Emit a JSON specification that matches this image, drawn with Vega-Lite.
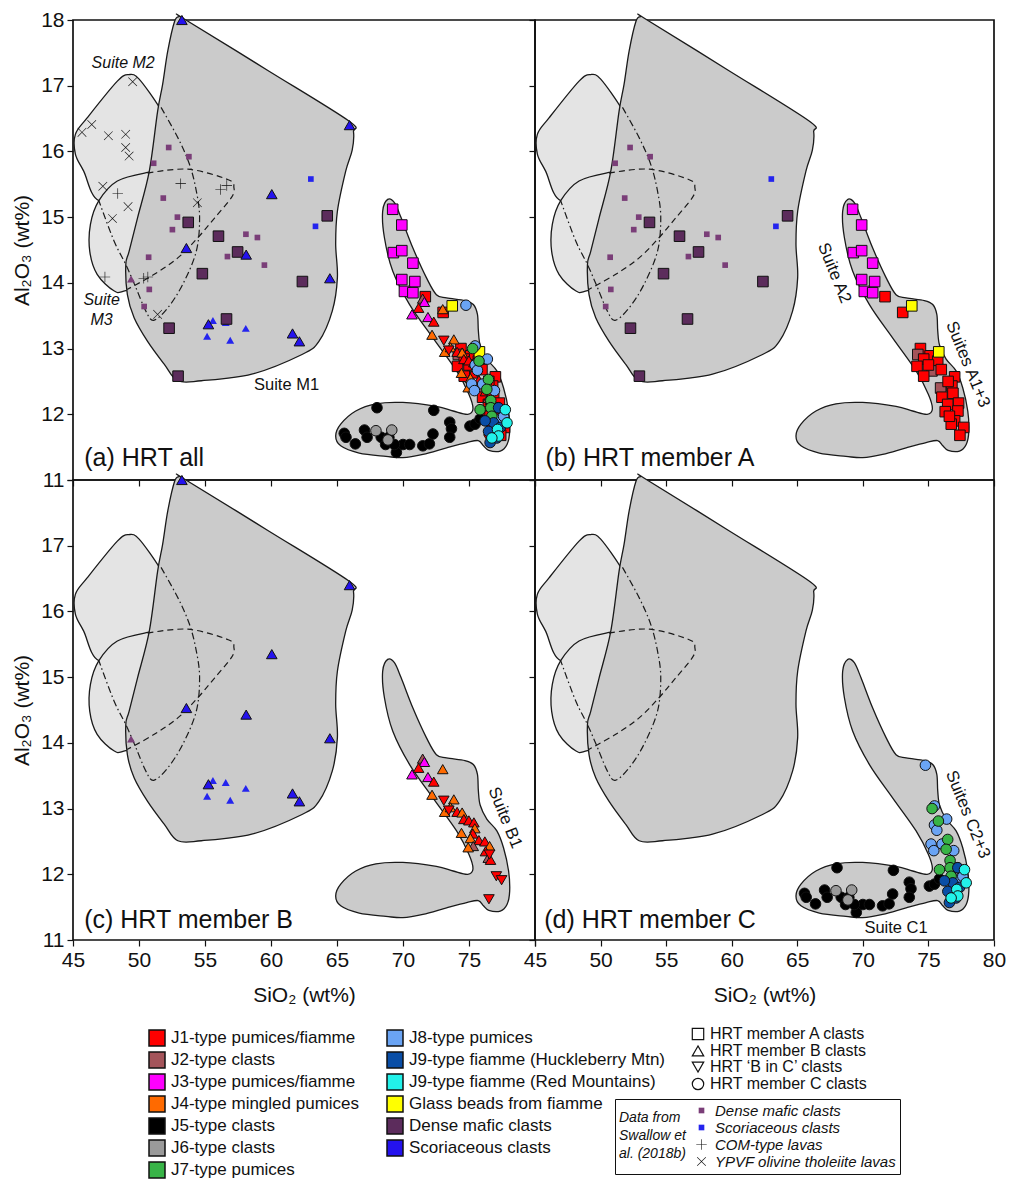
{
"$schema": "https://vega.github.io/schema/vega-lite/v6.json",
"padding": {"left": 10, "top": 8, "right": 10, "bottom": 0},
"columns": 2,
"spacing": 0,
"bounds": "flush",
"config": {
  "font": "Liberation Sans",
  "view": {"stroke": "#111", "strokeWidth": 1.7},
  "axis": {"grid": false, "domain": false, "tickColor": "#111", "tickSize": 6, "tickWidth": 1.2, "labelFontSize": 21, "labelColor": "#111", "labelFlush": false, "labelPadding": 3, "titleFontSize": 21, "titleFontWeight": "normal", "titleColor": "#111"},
  "legend": {"labelColor": "#111", "labelFont": "Liberation Sans"}
},
"datasets": {
  "types": [
    {"t": "J1", "type": "J1-type pumices/fiamme"},
    {"t": "J2", "type": "J2-type clasts"},
    {"t": "J3", "type": "J3-type pumices/fiamme"},
    {"t": "J4", "type": "J4-type mingled pumices"},
    {"t": "J5", "type": "J5-type clasts"},
    {"t": "J6", "type": "J6-type clasts"},
    {"t": "J7", "type": "J7-type pumices"},
    {"t": "J8", "type": "J8-type pumices"},
    {"t": "J9H", "type": "J9-type fiamme (Huckleberry Mtn)"},
    {"t": "J9R", "type": "J9-type fiamme (Red Mountains)"},
    {"t": "GB", "type": "Glass beads from fiamme"},
    {"t": "DM", "type": "Dense mafic clasts"},
    {"t": "SC", "type": "Scoriaceous clasts"}
  ],
  "members": [
    {"m": "A", "member": "HRT member A clasts"},
    {"m": "B", "member": "HRT member B clasts"},
    {"m": "BC", "member": "HRT ‘B in C’ clasts"},
    {"m": "C", "member": "HRT member C clasts"}
  ],
  "poly": [
    {"f": "M2", "o": 0, "x": 49.25, "y": 17.17}, {"f": "M2", "o": 1, "x": 50.01, "y": 17.1}, {"f": "M2", "o": 2, "x": 51.54, "y": 16.67}, {"f": "M2", "o": 3, "x": 51.92, "y": 16.46}, {"f": "M2", "o": 4, "x": 51.67, "y": 15.7}, {"f": "M2", "o": 5, "x": 49.63, "y": 15.4}, {"f": "M2", "o": 6, "x": 46.96, "y": 15.25}, {"f": "M2", "o": 7, "x": 45.81, "y": 15.7}, {"f": "M2", "o": 8, "x": 45.18, "y": 15.96}, {"f": "M2", "o": 9, "x": 45.18, "y": 16.26}, {"f": "M2", "o": 10, "x": 46.07, "y": 16.51}, {"f": "M2", "o": 11, "x": 48.36, "y": 17.07},
    {"f": "M3", "o": 0, "x": 46.96, "y": 15.25}, {"f": "M3", "o": 1, "x": 48.36, "y": 15.55}, {"f": "M3", "o": 2, "x": 50.65, "y": 15.68}, {"f": "M3", "o": 3, "x": 52.18, "y": 15.7}, {"f": "M3", "o": 4, "x": 52.18, "y": 14.08}, {"f": "M3", "o": 5, "x": 49.0, "y": 13.88}, {"f": "M3", "o": 6, "x": 48.1, "y": 13.88}, {"f": "M3", "o": 7, "x": 46.83, "y": 14.13}, {"f": "M3", "o": 8, "x": 46.27, "y": 14.48}, {"f": "M3", "o": 9, "x": 46.32, "y": 14.89},
    {"f": "M1", "o": 0, "x": 52.7, "y": 17.98}, {"f": "M1", "o": 1, "x": 53.05, "y": 18.05}, {"f": "M1", "o": 2, "x": 53.4, "y": 18.02}, {"f": "M1", "o": 3, "x": 59.7, "y": 17.24}, {"f": "M1", "o": 4, "x": 65.85, "y": 16.47}, {"f": "M1", "o": 5, "x": 66.25, "y": 16.3}, {"f": "M1", "o": 6, "x": 66.15, "y": 16.02}, {"f": "M1", "o": 7, "x": 65.66, "y": 15.7}, {"f": "M1", "o": 8, "x": 65.03, "y": 15.09}, {"f": "M1", "o": 9, "x": 64.9, "y": 14.59}, {"f": "M1", "o": 10, "x": 65.03, "y": 14.08}, {"f": "M1", "o": 11, "x": 64.64, "y": 13.57}, {"f": "M1", "o": 12, "x": 63.63, "y": 13.11}, {"f": "M1", "o": 13, "x": 62.35, "y": 12.91}, {"f": "M1", "o": 14, "x": 58.54, "y": 12.61}, {"f": "M1", "o": 15, "x": 54.72, "y": 12.51}, {"f": "M1", "o": 16, "x": 52.94, "y": 12.51}, {"f": "M1", "o": 17, "x": 51.92, "y": 12.76}, {"f": "M1", "o": 18, "x": 50.65, "y": 13.11}, {"f": "M1", "o": 19, "x": 49.63, "y": 13.47}, {"f": "M1", "o": 20, "x": 49.12, "y": 13.82}, {"f": "M1", "o": 21, "x": 49.0, "y": 14.28}, {"f": "M1", "o": 22, "x": 49.25, "y": 14.48}, {"f": "M1", "o": 23, "x": 49.89, "y": 14.99}, {"f": "M1", "o": 24, "x": 50.78, "y": 15.7}, {"f": "M1", "o": 25, "x": 51.41, "y": 16.61}, {"f": "M1", "o": 26, "x": 51.79, "y": 17.02}, {"f": "M1", "o": 27, "x": 52.18, "y": 17.53},
    {"f": "R", "o": 0, "x": 68.84, "y": 15.27}, {"f": "R", "o": 1, "x": 68.46, "y": 15.09}, {"f": "R", "o": 2, "x": 68.59, "y": 14.69}, {"f": "R", "o": 3, "x": 69.22, "y": 14.18}, {"f": "R", "o": 4, "x": 70.5, "y": 13.67}, {"f": "R", "o": 5, "x": 72.28, "y": 13.16}, {"f": "R", "o": 6, "x": 74.06, "y": 12.66}, {"f": "R", "o": 7, "x": 75.0, "y": 12.3}, {"f": "R", "o": 8, "x": 75.3, "y": 12.08}, {"f": "R", "o": 9, "x": 74.9, "y": 12.0}, {"f": "R", "o": 10, "x": 73.8, "y": 12.05}, {"f": "R", "o": 11, "x": 72.53, "y": 12.12}, {"f": "R", "o": 12, "x": 69.99, "y": 12.18}, {"f": "R", "o": 13, "x": 67.95, "y": 12.16}, {"f": "R", "o": 14, "x": 66.42, "y": 12.05}, {"f": "R", "o": 15, "x": 65.28, "y": 11.85}, {"f": "R", "o": 16, "x": 64.9, "y": 11.67}, {"f": "R", "o": 17, "x": 65.28, "y": 11.52}, {"f": "R", "o": 18, "x": 66.68, "y": 11.41}, {"f": "R", "o": 19, "x": 68.71, "y": 11.36}, {"f": "R", "o": 20, "x": 69.99, "y": 11.34}, {"f": "R", "o": 21, "x": 71.51, "y": 11.39}, {"f": "R", "o": 22, "x": 73.3, "y": 11.49}, {"f": "R", "o": 23, "x": 74.82, "y": 11.57}, {"f": "R", "o": 24, "x": 75.7, "y": 11.6}, {"f": "R", "o": 25, "x": 76.1, "y": 11.52}, {"f": "R", "o": 26, "x": 76.5, "y": 11.45}, {"f": "R", "o": 27, "x": 77.37, "y": 11.44}, {"f": "R", "o": 28, "x": 77.88, "y": 11.54}, {"f": "R", "o": 29, "x": 78.08, "y": 11.74}, {"f": "R", "o": 30, "x": 78.0, "y": 12.05}, {"f": "R", "o": 31, "x": 77.62, "y": 12.4}, {"f": "R", "o": 32, "x": 77.11, "y": 12.66}, {"f": "R", "o": 33, "x": 76.35, "y": 12.84}, {"f": "R", "o": 34, "x": 75.85, "y": 13.05}, {"f": "R", "o": 35, "x": 75.71, "y": 13.27}, {"f": "R", "o": 36, "x": 75.64, "y": 13.52}, {"f": "R", "o": 37, "x": 75.33, "y": 13.67}, {"f": "R", "o": 38, "x": 74.69, "y": 13.73}, {"f": "R", "o": 39, "x": 73.3, "y": 13.77}, {"f": "R", "o": 40, "x": 72.53, "y": 13.82}, {"f": "R", "o": 41, "x": 71.77, "y": 14.08}, {"f": "R", "o": 42, "x": 70.75, "y": 14.53}, {"f": "R", "o": 43, "x": 69.86, "y": 14.99}, {"f": "R", "o": 44, "x": 69.35, "y": 15.22},
    {"f": "D", "o": 0, "x": 50.65, "y": 15.67}, {"f": "D", "o": 1, "x": 53.7, "y": 15.73}, {"f": "D", "o": 2, "x": 56.76, "y": 15.57}, {"f": "D", "o": 3, "x": 57.19, "y": 15.45}, {"f": "D", "o": 4, "x": 57.01, "y": 15.3}, {"f": "D", "o": 5, "x": 55.74, "y": 14.99}, {"f": "D", "o": 6, "x": 54.47, "y": 14.69}, {"f": "D", "o": 7, "x": 52.94, "y": 14.38}, {"f": "D", "o": 8, "x": 51.16, "y": 14.13}, {"f": "D", "o": 9, "x": 49.1, "y": 13.9},
    {"f": "DD", "o": 0, "x": 51.67, "y": 16.67}, {"f": "DD", "o": 1, "x": 52.94, "y": 16.21}, {"f": "DD", "o": 2, "x": 53.83, "y": 15.8}, {"f": "DD", "o": 3, "x": 54.34, "y": 15.4}, {"f": "DD", "o": 4, "x": 54.59, "y": 14.99}, {"f": "DD", "o": 5, "x": 54.34, "y": 14.48}, {"f": "DD", "o": 6, "x": 53.32, "y": 13.98}, {"f": "DD", "o": 7, "x": 52.18, "y": 13.62}, {"f": "DD", "o": 8, "x": 51.11, "y": 13.43}, {"f": "DD", "o": 9, "x": 50.52, "y": 13.57}, {"f": "DD", "o": 10, "x": 49.76, "y": 13.93}, {"f": "DD", "o": 11, "x": 49.0, "y": 14.28}, {"f": "DD", "o": 12, "x": 48.1, "y": 14.64}, {"f": "DD", "o": 13, "x": 46.96, "y": 15.25}
  ],
  "sw": [
    {"s": "Dense mafic clasts", "x": 52.25, "y": 16.06}, {"s": "Dense mafic clasts", "x": 53.78, "y": 15.92}, {"s": "Dense mafic clasts", "x": 51.11, "y": 15.82}, {"s": "Dense mafic clasts", "x": 51.84, "y": 15.29}, {"s": "Dense mafic clasts", "x": 52.91, "y": 15.0}, {"s": "Dense mafic clasts", "x": 52.53, "y": 14.81}, {"s": "Dense mafic clasts", "x": 50.73, "y": 14.39}, {"s": "Dense mafic clasts", "x": 50.78, "y": 13.9}, {"s": "Dense mafic clasts", "x": 50.39, "y": 13.64}, {"s": "Dense mafic clasts", "x": 58.1, "y": 14.74}, {"s": "Dense mafic clasts", "x": 58.97, "y": 14.69}, {"s": "Dense mafic clasts", "x": 56.7, "y": 14.4}, {"s": "Dense mafic clasts", "x": 59.5, "y": 14.27},
    {"s": "Scoriaceous clasts", "x": 63.02, "y": 15.58}, {"s": "Scoriaceous clasts", "x": 63.37, "y": 14.86},
    {"s": "dm-tri", "x": 49.4, "y": 14.05},
    {"s": "sc-tri", "x": 55.16, "y": 13.18}, {"s": "sc-tri", "x": 56.57, "y": 13.39}, {"s": "sc-tri", "x": 56.91, "y": 13.12}, {"s": "sc-tri", "x": 58.09, "y": 13.3}, {"s": "sc-tri", "x": 55.6, "y": 13.42},
    {"s": "COM-type lavas", "x": 53.16, "y": 15.51}, {"s": "COM-type lavas", "x": 48.39, "y": 15.36}, {"s": "COM-type lavas", "x": 56.18, "y": 15.42}, {"s": "COM-type lavas", "x": 56.65, "y": 15.48}, {"s": "COM-type lavas", "x": 47.42, "y": 14.09}, {"s": "COM-type lavas", "x": 50.36, "y": 14.07}, {"s": "COM-type lavas", "x": 50.67, "y": 14.09},
    {"s": "YPVF olivine tholeiite lavas", "x": 49.52, "y": 17.06}, {"s": "YPVF olivine tholeiite lavas", "x": 46.42, "y": 16.41}, {"s": "YPVF olivine tholeiite lavas", "x": 45.68, "y": 16.29}, {"s": "YPVF olivine tholeiite lavas", "x": 47.68, "y": 16.24}, {"s": "YPVF olivine tholeiite lavas", "x": 48.99, "y": 16.26}, {"s": "YPVF olivine tholeiite lavas", "x": 48.99, "y": 16.06}, {"s": "YPVF olivine tholeiite lavas", "x": 49.25, "y": 15.93}, {"s": "YPVF olivine tholeiite lavas", "x": 47.26, "y": 15.47}, {"s": "YPVF olivine tholeiite lavas", "x": 49.17, "y": 15.16}, {"s": "YPVF olivine tholeiite lavas", "x": 47.99, "y": 14.98}, {"s": "YPVF olivine tholeiite lavas", "x": 54.42, "y": 15.22}, {"s": "YPVF olivine tholeiite lavas", "x": 51.41, "y": 13.52}
  ],
  "pts": [
    {"m": "A", "t": "DM", "x": 53.73, "y": 14.92}, {"m": "A", "t": "DM", "x": 56.02, "y": 14.71}, {"m": "A", "t": "DM", "x": 57.47, "y": 14.47}, {"m": "A", "t": "DM", "x": 54.8, "y": 14.14}, {"m": "A", "t": "DM", "x": 62.38, "y": 14.02}, {"m": "A", "t": "DM", "x": 64.26, "y": 15.02}, {"m": "A", "t": "DM", "x": 56.63, "y": 13.45}, {"m": "A", "t": "DM", "x": 52.28, "y": 13.31}, {"m": "A", "t": "DM", "x": 52.96, "y": 12.58},
    {"m": "A", "t": "J3", "x": 69.22, "y": 15.12}, {"m": "A", "t": "J3", "x": 69.91, "y": 14.88}, {"m": "A", "t": "J3", "x": 69.27, "y": 14.46}, {"m": "A", "t": "J3", "x": 69.91, "y": 14.49}, {"m": "A", "t": "J3", "x": 70.75, "y": 14.3}, {"m": "A", "t": "J3", "x": 69.91, "y": 14.05}, {"m": "A", "t": "J3", "x": 70.9, "y": 14.02}, {"m": "A", "t": "J3", "x": 70.11, "y": 13.87}, {"m": "A", "t": "J3", "x": 70.75, "y": 13.85},
    {"m": "A", "t": "J1", "x": 71.69, "y": 13.79}, {"m": "A", "t": "J1", "x": 73.04, "y": 13.55}, {"m": "A", "t": "GB", "x": 73.73, "y": 13.65},
    {"m": "A", "t": "J1", "x": 74.39, "y": 13.0}, {"m": "A", "t": "J1", "x": 75.13, "y": 12.89}, {"m": "A", "t": "J2", "x": 74.19, "y": 12.91}, {"m": "A", "t": "J1", "x": 74.64, "y": 12.84}, {"m": "A", "t": "J1", "x": 75.71, "y": 12.81}, {"m": "A", "t": "J1", "x": 74.13, "y": 12.73}, {"m": "A", "t": "J2", "x": 75.27, "y": 12.66}, {"m": "A", "t": "J1", "x": 75.98, "y": 12.68}, {"m": "A", "t": "J1", "x": 74.64, "y": 12.58}, {"m": "A", "t": "J1", "x": 75.0, "y": 12.75}, {"m": "A", "t": "GB", "x": 75.79, "y": 12.95},
    {"m": "A", "t": "J1", "x": 77.0, "y": 12.57}, {"m": "A", "t": "J1", "x": 76.79, "y": 12.43}, {"m": "A", "t": "J2", "x": 75.93, "y": 12.4}, {"m": "A", "t": "J1", "x": 76.03, "y": 12.26}, {"m": "A", "t": "J1", "x": 76.87, "y": 12.32}, {"m": "A", "t": "J1", "x": 77.3, "y": 12.17}, {"m": "A", "t": "J1", "x": 76.47, "y": 12.15}, {"m": "A", "t": "J1", "x": 77.25, "y": 12.05}, {"m": "A", "t": "J1", "x": 76.28, "y": 12.04}, {"m": "A", "t": "J1", "x": 77.0, "y": 11.9}, {"m": "A", "t": "J1", "x": 76.74, "y": 11.85}, {"m": "A", "t": "J1", "x": 77.69, "y": 11.8}, {"m": "A", "t": "J1", "x": 77.4, "y": 11.68}, {"m": "A", "t": "J1", "x": 76.5, "y": 12.5}, {"m": "A", "t": "J1", "x": 76.6, "y": 11.97},
    {"m": "B", "t": "SC", "x": 53.25, "y": 18.0}, {"m": "B", "t": "SC", "x": 65.95, "y": 16.4}, {"m": "B", "t": "SC", "x": 60.06, "y": 15.35}, {"m": "B", "t": "SC", "x": 53.59, "y": 14.53}, {"m": "B", "t": "SC", "x": 58.12, "y": 14.43}, {"m": "B", "t": "SC", "x": 64.46, "y": 14.07}, {"m": "B", "t": "SC", "x": 55.26, "y": 13.37}, {"m": "B", "t": "SC", "x": 61.63, "y": 13.23}, {"m": "B", "t": "SC", "x": 62.15, "y": 13.11},
    {"m": "B", "t": "J2", "x": 71.49, "y": 13.76}, {"m": "B", "t": "J3", "x": 71.62, "y": 13.71}, {"m": "B", "t": "J1", "x": 71.18, "y": 13.62}, {"m": "B", "t": "J3", "x": 70.68, "y": 13.52}, {"m": "B", "t": "J3", "x": 71.89, "y": 13.48}, {"m": "B", "t": "J1", "x": 72.33, "y": 13.41}, {"m": "B", "t": "J4", "x": 73.01, "y": 13.6}, {"m": "B", "t": "J4", "x": 72.2, "y": 13.21}, {"m": "B", "t": "J4", "x": 73.85, "y": 13.14}, {"m": "B", "t": "J4", "x": 73.16, "y": 12.95}, {"m": "B", "t": "J4", "x": 73.6, "y": 13.02}, {"m": "B", "t": "J1", "x": 74.1, "y": 12.95}, {"m": "B", "t": "J4", "x": 74.48, "y": 12.94}, {"m": "B", "t": "J1", "x": 74.61, "y": 12.84}, {"m": "B", "t": "J1", "x": 74.99, "y": 12.82}, {"m": "B", "t": "J1", "x": 75.37, "y": 12.79}, {"m": "B", "t": "J4", "x": 75.44, "y": 12.7}, {"m": "B", "t": "J4", "x": 74.43, "y": 12.63}, {"m": "B", "t": "J1", "x": 75.29, "y": 12.62}, {"m": "B", "t": "J1", "x": 75.75, "y": 12.52}, {"m": "B", "t": "J4", "x": 75.11, "y": 12.55}, {"m": "B", "t": "J2", "x": 75.32, "y": 12.43}, {"m": "B", "t": "J4", "x": 74.94, "y": 12.41}, {"m": "B", "t": "J1", "x": 76.2, "y": 12.5}, {"m": "B", "t": "J4", "x": 76.56, "y": 12.43}, {"m": "B", "t": "J1", "x": 76.25, "y": 12.35}, {"m": "B", "t": "J2", "x": 76.46, "y": 12.25}, {"m": "B", "t": "J1", "x": 76.63, "y": 12.22},
    {"m": "BC", "t": "J1", "x": 73.09, "y": 13.12}, {"m": "BC", "t": "J1", "x": 73.47, "y": 12.97}, {"m": "BC", "t": "J1", "x": 76.55, "y": 12.3}, {"m": "BC", "t": "J1", "x": 77.07, "y": 11.97}, {"m": "BC", "t": "J1", "x": 77.47, "y": 11.91}, {"m": "BC", "t": "J1", "x": 76.51, "y": 11.62},
    {"m": "C", "t": "J5", "x": 68.03, "y": 12.1}, {"m": "C", "t": "J5", "x": 72.33, "y": 12.06}, {"m": "C", "t": "J5", "x": 65.55, "y": 11.71}, {"m": "C", "t": "J5", "x": 65.68, "y": 11.65}, {"m": "C", "t": "J5", "x": 66.39, "y": 11.55}, {"m": "C", "t": "J5", "x": 67.08, "y": 11.76}, {"m": "C", "t": "J5", "x": 67.28, "y": 11.65}, {"m": "C", "t": "J5", "x": 68.35, "y": 11.65}, {"m": "C", "t": "J5", "x": 68.68, "y": 11.54}, {"m": "C", "t": "J5", "x": 69.5, "y": 11.42}, {"m": "C", "t": "J5", "x": 70.0, "y": 11.54}, {"m": "C", "t": "J5", "x": 70.5, "y": 11.54}, {"m": "C", "t": "J5", "x": 71.5, "y": 11.52}, {"m": "C", "t": "J5", "x": 72.0, "y": 11.55}, {"m": "C", "t": "J5", "x": 72.27, "y": 11.7}, {"m": "C", "t": "J5", "x": 73.54, "y": 11.88}, {"m": "C", "t": "J5", "x": 73.67, "y": 11.78}, {"m": "C", "t": "J5", "x": 73.54, "y": 11.65}, {"m": "C", "t": "J5", "x": 75.07, "y": 11.82}, {"m": "C", "t": "J5", "x": 75.46, "y": 11.85}, {"m": "C", "t": "J5", "x": 75.84, "y": 11.93}, {"m": "C", "t": "J5", "x": 69.35, "y": 11.54}, {"m": "C", "t": "J5", "x": 68.93, "y": 11.65},
    {"m": "C", "t": "J6", "x": 67.95, "y": 11.75}, {"m": "C", "t": "J6", "x": 69.15, "y": 11.76}, {"m": "C", "t": "J6", "x": 68.86, "y": 11.61},
    {"m": "C", "t": "J8", "x": 74.77, "y": 13.66}, {"m": "C", "t": "J8", "x": 75.46, "y": 13.04}, {"m": "C", "t": "J8", "x": 76.39, "y": 12.84}, {"m": "C", "t": "J8", "x": 75.46, "y": 12.75}, {"m": "C", "t": "J8", "x": 75.64, "y": 12.67}, {"m": "C", "t": "J8", "x": 75.2, "y": 12.46}, {"m": "C", "t": "J8", "x": 75.41, "y": 12.36}, {"m": "C", "t": "J8", "x": 76.04, "y": 12.46}, {"m": "C", "t": "J8", "x": 76.93, "y": 12.36}, {"m": "C", "t": "J8", "x": 77.19, "y": 12.1}, {"m": "C", "t": "J8", "x": 77.44, "y": 11.94}, {"m": "C", "t": "J8", "x": 77.62, "y": 11.97},
    {"m": "C", "t": "J7", "x": 75.28, "y": 13.0}, {"m": "C", "t": "J7", "x": 75.76, "y": 12.81}, {"m": "C", "t": "J7", "x": 76.47, "y": 12.53}, {"m": "C", "t": "J7", "x": 76.35, "y": 12.38}, {"m": "C", "t": "J7", "x": 76.65, "y": 12.21}, {"m": "C", "t": "J7", "x": 75.84, "y": 12.07}, {"m": "C", "t": "J7", "x": 76.65, "y": 12.1}, {"m": "C", "t": "J7", "x": 76.73, "y": 11.97},
    {"m": "C", "t": "J9H", "x": 77.24, "y": 12.1}, {"m": "C", "t": "J9H", "x": 76.86, "y": 11.87}, {"m": "C", "t": "J9H", "x": 77.37, "y": 11.8}, {"m": "C", "t": "J9H", "x": 76.6, "y": 11.57}, {"m": "C", "t": "J9H", "x": 77.11, "y": 11.64}, {"m": "C", "t": "J9H", "x": 76.48, "y": 11.74}, {"m": "C", "t": "J9H", "x": 76.22, "y": 11.9},
    {"m": "C", "t": "J9R", "x": 77.75, "y": 12.07}, {"m": "C", "t": "J9R", "x": 77.88, "y": 11.87}, {"m": "C", "t": "J9R", "x": 77.16, "y": 11.77}, {"m": "C", "t": "J9R", "x": 77.24, "y": 11.67}, {"m": "C", "t": "J9R", "x": 76.73, "y": 11.64}
  ],
  "plab": [
    {"p": "a", "txt": "(a) HRT all", "x": 45.85, "y": 11.34},
    {"p": "b", "txt": "(b) HRT member A", "x": 45.8, "y": 11.34},
    {"p": "c", "txt": "(c) HRT member B", "x": 45.85, "y": 11.31},
    {"p": "d", "txt": "(d) HRT member C", "x": 45.7, "y": 11.31}
  ],
  "ital": [
    {"p": "a", "txt": "Suite M2", "x": 48.8, "y": 17.35},
    {"p": "a", "txt": "Suite", "x": 47.17, "y": 13.74},
    {"p": "a", "txt": "M3", "x": 47.17, "y": 13.44}
  ],
  "plain": [
    {"p": "a", "txt": "Suite M1", "x": 61.18, "y": 12.44},
    {"p": "d", "txt": "Suite C1", "x": 72.53, "y": 11.19}
  ],
  "rot": [
    {"p": "b", "txt": "Suite A2", "x": 67.82, "y": 14.15},
    {"p": "b", "txt": "Suites A1+3", "x": 78.0, "y": 12.76},
    {"p": "c", "txt": "Suite B1", "x": 77.73, "y": 12.86},
    {"p": "d", "txt": "Suites C2+3", "x": 78.0, "y": 12.91}
  ]
},
"concat": [
{
  "width": 462, "height": 460,
  "resolve": {"scale": {"shape": "independent", "color": "independent"}, "legend": {"shape": "independent", "color": "independent"}},
  "encoding": {
    "x": {"field": "x", "type": "quantitative", "scale": {"domain": [45, 80], "nice": false, "zero": false}, "axis": {"values": [45, 50, 55, 60, 65, 70, 75, 80], "labels": false, "title": null}},
    "y": {"field": "y", "type": "quantitative", "scale": {"domain": [11, 18], "nice": false, "zero": false}, "axis": {"values": [11, 12, 13, 14, 15, 16, 17, 18], "title": "Al₂O₃ (wt%)", "titlePadding": 8}}
  },
  "layer": [
    {"data": {"name": "poly"}, "transform": [{"filter": "datum.f == 'M2'"}], "mark": {"type": "line", "interpolate": "cardinal-closed", "fill": "#e4e4e4", "stroke": "#1a1a1a", "strokeWidth": 1.3}, "encoding": {"order": {"field": "o", "type": "quantitative"}}},
    {"data": {"name": "poly"}, "transform": [{"filter": "datum.f == 'M3'"}], "mark": {"type": "line", "interpolate": "cardinal-closed", "fill": "#e4e4e4", "stroke": "#1a1a1a", "strokeWidth": 1.3}, "encoding": {"order": {"field": "o", "type": "quantitative"}}},
    {"data": {"name": "poly"}, "transform": [{"filter": "datum.f == 'M1'"}], "mark": {"type": "line", "interpolate": "cardinal-closed", "fill": "#cbcbcb", "stroke": "#1a1a1a", "strokeWidth": 1.3}, "encoding": {"order": {"field": "o", "type": "quantitative"}}},
    {"data": {"name": "poly"}, "transform": [{"filter": "datum.f == 'R'"}], "mark": {"type": "line", "interpolate": "cardinal-closed", "fill": "#cbcbcb", "stroke": "#1a1a1a", "strokeWidth": 1.3}, "encoding": {"order": {"field": "o", "type": "quantitative"}}},
    {"data": {"name": "poly"}, "transform": [{"filter": "datum.f == 'D'"}], "mark": {"type": "line", "interpolate": "cardinal", "stroke": "#1a1a1a", "strokeWidth": 1.2, "strokeDash": [6, 4]}, "encoding": {"order": {"field": "o", "type": "quantitative"}}},
    {"data": {"name": "poly"}, "transform": [{"filter": "datum.f == 'DD'"}], "mark": {"type": "line", "interpolate": "cardinal", "stroke": "#1a1a1a", "strokeWidth": 1.2, "strokeDash": [7, 3, 1.5, 3]}, "encoding": {"order": {"field": "o", "type": "quantitative"}}},
    {"data": {"name": "sw"}, "mark": {"type": "point", "filled": true, "opacity": 1, "size": 32},
     "encoding": {
       "color": {"field": "s", "type": "nominal",
         "scale": {"domain": ["Dense mafic clasts", "Scoriaceous clasts", "COM-type lavas", "YPVF olivine tholeiite lavas", "dm-tri", "sc-tri"], "range": ["#7a3e78", "#2424ee", "#111111", "#111111", "#7a3e78", "#2424ee"]},
         "legend": {"values": ["Dense mafic clasts", "Scoriaceous clasts", "COM-type lavas", "YPVF olivine tholeiite lavas"], "title": ["Data from", "Swallow et", "al. (2018b)"], "titleOrient": "left", "titleAngle": 0, "titleFontSize": 14, "titleFontStyle": "italic", "titleFontWeight": "normal", "titleLineHeight": 18, "titlePadding": 8, "titleColor": "#111",
           "orient": "none", "legendX": 542, "legendY": 1079, "symbolSize": 32, "labelFontSize": 15, "labelFontStyle": "italic", "labelOffset": 6, "rowPadding": 1, "padding": 4, "strokeColor": "#111", "labelLimit": 300}},
       "shape": {"field": "s", "type": "nominal",
         "scale": {"domain": ["Dense mafic clasts", "Scoriaceous clasts", "COM-type lavas", "YPVF olivine tholeiite lavas", "dm-tri", "sc-tri"], "range": ["square", "square", "M-1.85,-0.11H-0.11V-1.85H0.11V-0.11H1.85V0.11H0.11V1.85H-0.11V0.11H-1.85Z", "M-1.6,-1.45L-1.45,-1.6L0,-0.15L1.45,-1.6L1.6,-1.45L0.15,0L1.6,1.45L1.45,1.6L0,0.15L-1.45,1.6L-1.6,1.45L-0.15,0Z", "M0,-1.4L1.41,1.05L-1.41,1.05Z", "M0,-1.4L1.41,1.05L-1.41,1.05Z"]}}
     }},
    {"data": {"name": "pts"},
     "transform": [{"lookup": "t", "from": {"data": {"name": "types"}, "key": "t", "fields": ["type"]}}, {"lookup": "m", "from": {"data": {"name": "members"}, "key": "m", "fields": ["member"]}}],
     "mark": {"type": "point", "filled": true, "opacity": 1, "stroke": "#111", "strokeWidth": 1, "size": 112},
     "encoding": {
       "fill": {"field": "type", "type": "nominal",
         "scale": {"domain": ["J1-type pumices/fiamme", "J2-type clasts", "J3-type pumices/fiamme", "J4-type mingled pumices", "J5-type clasts", "J6-type clasts", "J7-type pumices", "J8-type pumices", "J9-type fiamme (Huckleberry Mtn)", "J9-type fiamme (Red Mountains)", "Glass beads from fiamme", "Dense mafic clasts", "Scoriaceous clasts"],
                   "range": ["#ff0000", "#a4545a", "#ff00ff", "#ff6a00", "#000000", "#9a9a9a", "#38b447", "#6aa4f4", "#0a4ea6", "#22f2ea", "#ffff00", "#5c2c5c", "#2412ee"]},
         "legend": {"title": null, "orient": "none", "legendX": 75, "legendY": 1009, "direction": "vertical", "columns": 2, "columnPadding": 24, "rowPadding": 0, "symbolType": "square", "symbolSize": 256, "labelFontSize": 17, "labelOffset": 5, "labelLimit": 400, "padding": 0}},
       "shape": {"field": "member", "type": "nominal",
         "scale": {"domain": ["HRT member A clasts", "HRT member B clasts", "HRT ‘B in C’ clasts", "HRT member C clasts"], "range": ["square", "triangle-up", "triangle-down", "circle"]},
         "legend": {"title": null, "orient": "none", "legendX": 617, "legendY": 1006, "symbolSize": 130, "symbolFillColor": "white", "symbolStrokeColor": "#111", "symbolStrokeWidth": 1.2, "labelFontSize": 16, "rowPadding": 0, "labelOffset": 4, "padding": 0, "labelLimit": 300}}
     }},
    {"data": {"name": "plab"}, "transform": [{"filter": "datum.p == 'a'"}], "mark": {"type": "text", "align": "left", "baseline": "middle", "fontSize": 25, "color": "#111"}, "encoding": {"text": {"field": "txt"}}},
    {"data": {"name": "ital"}, "transform": [{"filter": "datum.p == 'a'"}], "mark": {"type": "text", "align": "center", "baseline": "middle", "fontSize": 16, "fontStyle": "italic", "color": "#111"}, "encoding": {"text": {"field": "txt"}}},
    {"data": {"name": "plain"}, "transform": [{"filter": "datum.p == 'a'"}], "mark": {"type": "text", "align": "center", "baseline": "middle", "fontSize": 16.5, "color": "#111"}, "encoding": {"text": {"field": "txt"}}}
  ]
},
{
  "width": 459, "height": 460,
  "resolve": {"scale": {"shape": "independent", "color": "independent"}, "legend": {"shape": "independent", "color": "independent"}},
  "encoding": {
    "x": {"field": "x", "type": "quantitative", "scale": {"domain": [45, 80], "nice": false, "zero": false}, "axis": {"values": [45, 50, 55, 60, 65, 70, 75, 80], "labels": false, "title": null}},
    "y": {"field": "y", "type": "quantitative", "scale": {"domain": [11, 18], "nice": false, "zero": false}, "axis": {"values": [11, 12, 13, 14, 15, 16, 17, 18], "labels": false, "title": null}}
  },
  "layer": [
    {"data": {"name": "poly"}, "transform": [{"filter": "datum.f == 'M2'"}], "mark": {"type": "line", "interpolate": "cardinal-closed", "fill": "#e4e4e4", "stroke": "#1a1a1a", "strokeWidth": 1.3}, "encoding": {"order": {"field": "o", "type": "quantitative"}}},
    {"data": {"name": "poly"}, "transform": [{"filter": "datum.f == 'M3'"}], "mark": {"type": "line", "interpolate": "cardinal-closed", "fill": "#e4e4e4", "stroke": "#1a1a1a", "strokeWidth": 1.3}, "encoding": {"order": {"field": "o", "type": "quantitative"}}},
    {"data": {"name": "poly"}, "transform": [{"filter": "datum.f == 'M1'"}], "mark": {"type": "line", "interpolate": "cardinal-closed", "fill": "#cbcbcb", "stroke": "#1a1a1a", "strokeWidth": 1.3}, "encoding": {"order": {"field": "o", "type": "quantitative"}}},
    {"data": {"name": "poly"}, "transform": [{"filter": "datum.f == 'R'"}], "mark": {"type": "line", "interpolate": "cardinal-closed", "fill": "#cbcbcb", "stroke": "#1a1a1a", "strokeWidth": 1.3}, "encoding": {"order": {"field": "o", "type": "quantitative"}}},
    {"data": {"name": "poly"}, "transform": [{"filter": "datum.f == 'D'"}], "mark": {"type": "line", "interpolate": "cardinal", "stroke": "#1a1a1a", "strokeWidth": 1.2, "strokeDash": [6, 4]}, "encoding": {"order": {"field": "o", "type": "quantitative"}}},
    {"data": {"name": "poly"}, "transform": [{"filter": "datum.f == 'DD'"}], "mark": {"type": "line", "interpolate": "cardinal", "stroke": "#1a1a1a", "strokeWidth": 1.2, "strokeDash": [7, 3, 1.5, 3]}, "encoding": {"order": {"field": "o", "type": "quantitative"}}},
    {"data": {"name": "sw"}, "transform": [{"filter": "datum.s == 'Dense mafic clasts' || datum.s == 'Scoriaceous clasts'"}], "mark": {"type": "point", "filled": true, "opacity": 1, "shape": "square", "size": 32},
     "encoding": {
       "color": {"field": "s", "type": "nominal", "scale": {"domain": ["Dense mafic clasts", "Scoriaceous clasts"], "range": ["#7a3e78", "#2424ee"]}, "legend": null}
     }},
    {"data": {"name": "pts"},
     "transform": [{"filter": "datum.m == 'A'"}, {"lookup": "t", "from": {"data": {"name": "types"}, "key": "t", "fields": ["type"]}}, {"lookup": "m", "from": {"data": {"name": "members"}, "key": "m", "fields": ["member"]}}],
     "mark": {"type": "point", "filled": true, "opacity": 1, "stroke": "#111", "strokeWidth": 1, "size": 112},
     "encoding": {
       "fill": {"field": "type", "type": "nominal", "legend": null},
       "shape": {"field": "member", "type": "nominal", "scale": {"domain": ["HRT member A clasts", "HRT member B clasts", "HRT ‘B in C’ clasts", "HRT member C clasts"], "range": ["square", "triangle-up", "triangle-down", "circle"]}, "legend": null}
     }},
    {"data": {"name": "plab"}, "transform": [{"filter": "datum.p == 'b'"}], "mark": {"type": "text", "align": "left", "baseline": "middle", "fontSize": 25, "color": "#111"}, "encoding": {"text": {"field": "txt"}}},
    {"data": {"name": "rot"}, "transform": [{"filter": "datum.p == 'b'"}], "mark": {"type": "text", "align": "center", "baseline": "middle", "fontSize": 17, "angle": 68, "color": "#111"}, "encoding": {"text": {"field": "txt"}}}
  ]
},
{
  "width": 462, "height": 460,
  "resolve": {"scale": {"shape": "independent", "color": "independent"}, "legend": {"shape": "independent", "color": "independent"}},
  "encoding": {
    "x": {"field": "x", "type": "quantitative", "scale": {"domain": [45, 80], "nice": false, "zero": false}, "axis": {"values": [45, 50, 55, 60, 65, 70, 75, 80], "labelExpr": "datum.value == 80 ? '' : datum.label", "title": "SiO₂ (wt%)", "titlePadding": 14}},
    "y": {"field": "y", "type": "quantitative", "scale": {"domain": [11, 18], "nice": false, "zero": false}, "axis": {"values": [11, 12, 13, 14, 15, 16, 17, 18], "labelExpr": "datum.value == 18 ? '' : datum.label", "title": "Al₂O₃ (wt%)", "titlePadding": 8}}
  },
  "layer": [
    {"data": {"name": "poly"}, "transform": [{"filter": "datum.f == 'M2'"}], "mark": {"type": "line", "interpolate": "cardinal-closed", "fill": "#e4e4e4", "stroke": "#1a1a1a", "strokeWidth": 1.3}, "encoding": {"order": {"field": "o", "type": "quantitative"}}},
    {"data": {"name": "poly"}, "transform": [{"filter": "datum.f == 'M3'"}], "mark": {"type": "line", "interpolate": "cardinal-closed", "fill": "#e4e4e4", "stroke": "#1a1a1a", "strokeWidth": 1.3}, "encoding": {"order": {"field": "o", "type": "quantitative"}}},
    {"data": {"name": "poly"}, "transform": [{"filter": "datum.f == 'M1'"}], "mark": {"type": "line", "interpolate": "cardinal-closed", "fill": "#cbcbcb", "stroke": "#1a1a1a", "strokeWidth": 1.3}, "encoding": {"order": {"field": "o", "type": "quantitative"}}},
    {"data": {"name": "poly"}, "transform": [{"filter": "datum.f == 'R'"}], "mark": {"type": "line", "interpolate": "cardinal-closed", "fill": "#cbcbcb", "stroke": "#1a1a1a", "strokeWidth": 1.3}, "encoding": {"order": {"field": "o", "type": "quantitative"}}},
    {"data": {"name": "poly"}, "transform": [{"filter": "datum.f == 'D'"}], "mark": {"type": "line", "interpolate": "cardinal", "stroke": "#1a1a1a", "strokeWidth": 1.2, "strokeDash": [6, 4]}, "encoding": {"order": {"field": "o", "type": "quantitative"}}},
    {"data": {"name": "poly"}, "transform": [{"filter": "datum.f == 'DD'"}], "mark": {"type": "line", "interpolate": "cardinal", "stroke": "#1a1a1a", "strokeWidth": 1.2, "strokeDash": [7, 3, 1.5, 3]}, "encoding": {"order": {"field": "o", "type": "quantitative"}}},
    {"data": {"name": "sw"}, "transform": [{"filter": "datum.s == 'dm-tri' || datum.s == 'sc-tri'"}], "mark": {"type": "point", "filled": true, "opacity": 1, "shape": "M0,-1.4L1.41,1.05L-1.41,1.05Z", "size": 32},
     "encoding": {
       "color": {"field": "s", "type": "nominal", "scale": {"domain": ["dm-tri", "sc-tri"], "range": ["#7a3e78", "#2424ee"]}, "legend": null}
     }},
    {"data": {"name": "pts"},
     "transform": [{"filter": "datum.m == 'B' || datum.m == 'BC'"}, {"lookup": "t", "from": {"data": {"name": "types"}, "key": "t", "fields": ["type"]}}, {"lookup": "m", "from": {"data": {"name": "members"}, "key": "m", "fields": ["member"]}}],
     "mark": {"type": "point", "filled": true, "opacity": 1, "stroke": "#111", "strokeWidth": 1, "size": 112},
     "encoding": {
       "fill": {"field": "type", "type": "nominal", "legend": null},
       "shape": {"field": "member", "type": "nominal", "scale": {"domain": ["HRT member A clasts", "HRT member B clasts", "HRT ‘B in C’ clasts", "HRT member C clasts"], "range": ["square", "triangle-up", "triangle-down", "circle"]}, "legend": null}
     }},
    {"data": {"name": "plab"}, "transform": [{"filter": "datum.p == 'c'"}], "mark": {"type": "text", "align": "left", "baseline": "middle", "fontSize": 25, "color": "#111"}, "encoding": {"text": {"field": "txt"}}},
    {"data": {"name": "rot"}, "transform": [{"filter": "datum.p == 'c'"}], "mark": {"type": "text", "align": "center", "baseline": "middle", "fontSize": 17, "angle": 68, "color": "#111"}, "encoding": {"text": {"field": "txt"}}}
  ]
},
{
  "width": 459, "height": 460,
  "resolve": {"scale": {"shape": "independent", "color": "independent"}, "legend": {"shape": "independent", "color": "independent"}},
  "encoding": {
    "x": {"field": "x", "type": "quantitative", "scale": {"domain": [45, 80], "nice": false, "zero": false}, "axis": {"values": [45, 50, 55, 60, 65, 70, 75, 80], "title": "SiO₂ (wt%)", "titlePadding": 14}},
    "y": {"field": "y", "type": "quantitative", "scale": {"domain": [11, 18], "nice": false, "zero": false}, "axis": {"values": [11, 12, 13, 14, 15, 16, 17, 18], "labels": false, "title": null}}
  },
  "layer": [
    {"data": {"name": "poly"}, "transform": [{"filter": "datum.f == 'M2'"}], "mark": {"type": "line", "interpolate": "cardinal-closed", "fill": "#e4e4e4", "stroke": "#1a1a1a", "strokeWidth": 1.3}, "encoding": {"order": {"field": "o", "type": "quantitative"}}},
    {"data": {"name": "poly"}, "transform": [{"filter": "datum.f == 'M3'"}], "mark": {"type": "line", "interpolate": "cardinal-closed", "fill": "#e4e4e4", "stroke": "#1a1a1a", "strokeWidth": 1.3}, "encoding": {"order": {"field": "o", "type": "quantitative"}}},
    {"data": {"name": "poly"}, "transform": [{"filter": "datum.f == 'M1'"}], "mark": {"type": "line", "interpolate": "cardinal-closed", "fill": "#cbcbcb", "stroke": "#1a1a1a", "strokeWidth": 1.3}, "encoding": {"order": {"field": "o", "type": "quantitative"}}},
    {"data": {"name": "poly"}, "transform": [{"filter": "datum.f == 'R'"}], "mark": {"type": "line", "interpolate": "cardinal-closed", "fill": "#cbcbcb", "stroke": "#1a1a1a", "strokeWidth": 1.3}, "encoding": {"order": {"field": "o", "type": "quantitative"}}},
    {"data": {"name": "poly"}, "transform": [{"filter": "datum.f == 'D'"}], "mark": {"type": "line", "interpolate": "cardinal", "stroke": "#1a1a1a", "strokeWidth": 1.2, "strokeDash": [6, 4]}, "encoding": {"order": {"field": "o", "type": "quantitative"}}},
    {"data": {"name": "poly"}, "transform": [{"filter": "datum.f == 'DD'"}], "mark": {"type": "line", "interpolate": "cardinal", "stroke": "#1a1a1a", "strokeWidth": 1.2, "strokeDash": [7, 3, 1.5, 3]}, "encoding": {"order": {"field": "o", "type": "quantitative"}}},
    {"data": {"name": "pts"},
     "transform": [{"filter": "datum.m == 'C'"}, {"lookup": "t", "from": {"data": {"name": "types"}, "key": "t", "fields": ["type"]}}, {"lookup": "m", "from": {"data": {"name": "members"}, "key": "m", "fields": ["member"]}}],
     "mark": {"type": "point", "filled": true, "opacity": 1, "stroke": "#111", "strokeWidth": 1, "size": 112},
     "encoding": {
       "fill": {"field": "type", "type": "nominal", "legend": null},
       "shape": {"field": "member", "type": "nominal", "scale": {"domain": ["HRT member A clasts", "HRT member B clasts", "HRT ‘B in C’ clasts", "HRT member C clasts"], "range": ["square", "triangle-up", "triangle-down", "circle"]}, "legend": null}
     }},
    {"data": {"name": "plab"}, "transform": [{"filter": "datum.p == 'd'"}], "mark": {"type": "text", "align": "left", "baseline": "middle", "fontSize": 25, "color": "#111"}, "encoding": {"text": {"field": "txt"}}},
    {"data": {"name": "plain"}, "transform": [{"filter": "datum.p == 'd'"}], "mark": {"type": "text", "align": "center", "baseline": "middle", "fontSize": 16.5, "color": "#111"}, "encoding": {"text": {"field": "txt"}}},
    {"data": {"name": "rot"}, "transform": [{"filter": "datum.p == 'd'"}], "mark": {"type": "text", "align": "center", "baseline": "middle", "fontSize": 17, "angle": 68, "color": "#111"}, "encoding": {"text": {"field": "txt"}}}
  ]
}
]
}
